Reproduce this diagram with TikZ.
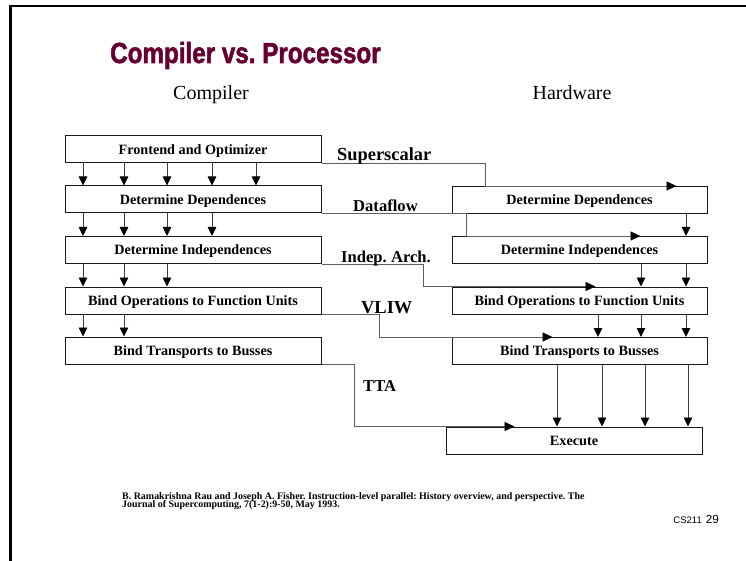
\documentclass[tikz,border=0pt]{standalone}
\usepackage{graphicx}
\usepackage{fontspec}
\setmainfont{Liberation Serif}
\newfontfamily\headfont{Liberation Sans}[BoldFeatures={FakeBold=2}]
\newfontfamily\footfont{Liberation Sans}
\usetikzlibrary{arrows.meta,calc}
\definecolor{titlecol}{RGB}{102,0,51}
\definecolor{linkcol}{RGB}{95,95,95}
\frenchspacing

\tikzset{
  stagebox/.style={draw=black!90, line width=1pt, minimum width=256pt,
    minimum height=27pt, inner sep=0pt, text height=9.4pt, text depth=0pt,
    font=\bfseries\fontsize{14.2}{14}\selectfont},
  flow/.style={-{Triangle[length=9pt,width=8.5pt,color=black]}, line width=0.8pt, draw=black!75},
  link/.style={line width=0.9pt, draw=linkcol,
    -{Triangle[length=10pt,width=9pt,color=black]}},
  tag/.style={anchor=base west, inner sep=0pt, font=\bfseries\fontsize{16.6}{17}\selectfont},
  bigtag/.style={tag, font=\bfseries\fontsize{18.4}{19}\selectfont},
  column/.style={anchor=base, inner sep=0pt, font=\fontsize{20}{20}\selectfont},
  citeline/.style={anchor=base west, inner sep=0pt, font=\bfseries\fontsize{9.95}{9}\selectfont}
}

\begin{document}
\begin{tikzpicture}[x=1pt,y=-1pt]
\useasboundingbox (0,0) rectangle (746,561);

% slide frame
\draw[line width=2.4pt, line cap=rect] (10.3,561) -- (10.3,6) -- (746,6);

% headings
\node[anchor=base west, inner sep=0pt, text=titlecol] (title) at (110,63)
  {\headfont\bfseries\fontsize{29}{29}\selectfont\scalebox{0.835}[1]{Compiler vs. Processor}};
\node[column] (hcomp) at (211,100) {Compiler};
\node[column] (hhw) at (572,100) {Hardware};

% compiler stages
\node[stagebox] (fe)  at (193,149.5) {Frontend and Optimizer};
\node[stagebox] (ldd) at (193,199.5) {Determine Dependences};
\node[stagebox] (ldi) at (193,250)   {Determine Independences};
\node[stagebox] (lbo) at (193,300.5) {Bind Operations to Function Units};
\node[stagebox] (lbt) at (193,350.5) {Bind Transports to Busses};

% hardware stages
\node[stagebox, minimum width=255pt] (rdd) at (579.5,200)   {Determine Dependences};
\node[stagebox, minimum width=255pt] (rdi) at (579.5,250)   {Determine Independences};
\node[stagebox, minimum width=255pt] (rbo) at (579.5,300.5) {Bind Operations to Function Units};
\node[stagebox, minimum width=255pt] (rbt) at (579.5,351)   {Bind Transports to Busses};
\node[stagebox] (ex) at (574,440.5) {Execute};

% compiler-side data flow
\foreach \x in {83,124,167,212,256} \draw[flow] (\x,0 |- fe.south) -- (\x,0 |- ldd.north);
\foreach \x in {83,124,167,212}     \draw[flow] (\x,0 |- ldd.south) -- (\x,0 |- ldi.north);
\foreach \x in {83,124,167}         \draw[flow] (\x,0 |- ldi.south) -- (\x,0 |- lbo.north);
\foreach \x in {83,124}             \draw[flow] (\x,0 |- lbo.south) -- (\x,0 |- lbt.north);

% hardware-side data flow
\draw[flow] (686,0 |- rdd.south) -- (686,0 |- rdi.north);
\foreach \x in {641,686}         \draw[flow] (\x,0 |- rdi.south) -- (\x,0 |- rbo.north);
\foreach \x in {598,641,686}     \draw[flow] (\x,0 |- rbo.south) -- (\x,0 |- rbt.north);
\foreach \x in {557,602,645,688} \draw[flow] (\x,0 |- rbt.south) -- (\x,0 |- ex.north);

% architecture hand-off lines
\draw[link] (fe.south east)  -| ([xshift=34pt]rdd.north west)  -- ([xshift=225pt]rdd.north west);
\draw[link] (ldd.south east) -| ([xshift=15pt]rdi.north west)  -- ([xshift=189pt]rdi.north west);
\draw[link] (ldi.south east) -| ([xshift=-28pt]rbo.north west) -- ([xshift=144pt]rbo.north west);
\draw[link] (lbo.south east) -| ([xshift=-72pt]rbt.north west) -- ([xshift=101pt]rbt.north west);
\draw[link] (lbt.south east) -| ([xshift=-91pt]ex.north west)  -- ([xshift=69pt]ex.north west);

% architecture names
\node[bigtag] (tss) at (337,161) {Superscalar};
\node[tag]    (tdf) at (353,212) {Dataflow};
\node[tag]    (tia) at (341,262) {Indep. Arch.};
\node[bigtag] (tvl) at (361,313) {VLIW};
\node[tag]    (ttt) at (363,391) {TTA};

% reference
\node[citeline] (cite1) at (122,499) {B. Ramakrishna Rau and Joseph A. Fisher. Instruction-level parallel: History overview, and perspective. The};
\node[citeline] (cite2) at (122,507.5) {Journal of Supercomputing, 7(1-2):9-50, May 1993.};

% footer
\node[anchor=base east, inner sep=0pt] (foot) at (719,523)
  {\footfont\fontsize{9.5}{10}\selectfont CS211\hspace{4pt}\fontsize{11.7}{12}\selectfont 29};
\end{tikzpicture}
\end{document}
